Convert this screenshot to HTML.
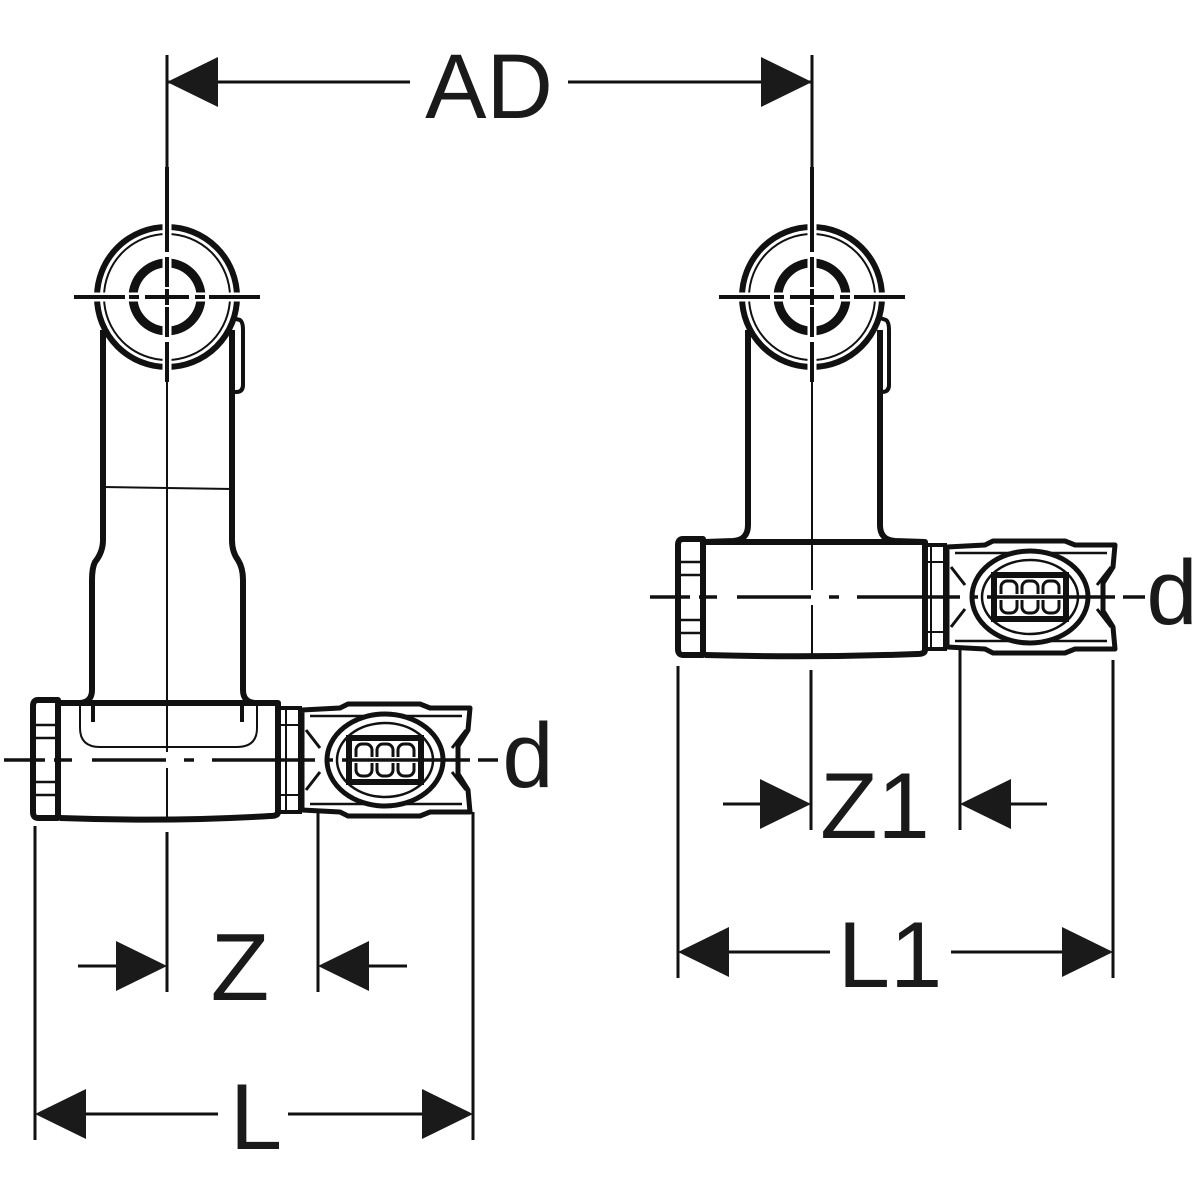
<!DOCTYPE html>
<html><head><meta charset="utf-8"><style>
html,body{margin:0;padding:0;background:#fff;}
svg{display:block;}
text{font-family:"Liberation Sans",Arial,sans-serif;fill:#1a1a1a;}
</style></head><body>
<svg width="1200" height="1200" viewBox="0 0 1200 1200" xmlns="http://www.w3.org/2000/svg">
<defs>
<g id="press">
  <!-- local: x=0 at body right edge, y=0 at centerline -->
  <path d="M0,-52 L20,-52 L20,52 L0,52" fill="none" stroke="#111" stroke-width="4"/>
  <line x1="6" y1="-52" x2="6" y2="52" stroke="#111" stroke-width="2"/>
  <line x1="0" y1="-35" x2="20" y2="-35" stroke="#111" stroke-width="2"/>
  <line x1="0" y1="35" x2="20" y2="35" stroke="#111" stroke-width="2"/>
  <path d="M22,-50 L60,-52 L68,-56 L140,-56 L150,-52 L190,-52 L188,-30 L178,-14 L178,14 L188,30 L190,52 L150,52 L140,56 L68,56 L60,52 L22,50 Z" fill="none" stroke="#111" stroke-width="5" stroke-linejoin="round"/>
  <path d="M30,-44 L182,-44 M30,44 L182,44" stroke="#111" stroke-width="2.5"/>
  <path d="M26,-30 L40,-12 M26,30 L40,12 M186,-30 L172,-12 M186,30 L172,12" stroke="#111" stroke-width="3"/>
  <ellipse cx="105" cy="0" rx="58" ry="46" fill="#fff" stroke="#111" stroke-width="5"/>
  <ellipse cx="105" cy="0" rx="48" ry="37" fill="none" stroke="#111" stroke-width="2.5"/>
  <rect x="69" y="-22" width="72" height="44" fill="none" stroke="#111" stroke-width="6"/>
  <rect x="76" y="-16" width="16" height="32" rx="6" fill="none" stroke="#111" stroke-width="3"/>
  <rect x="97" y="-16" width="16" height="32" rx="6" fill="none" stroke="#111" stroke-width="3"/>
  <rect x="118" y="-16" width="16" height="32" rx="6" fill="none" stroke="#111" stroke-width="3"/>
  <line x1="72" y1="0" x2="138" y2="0" stroke="#fff" stroke-width="6"/>
</g>
<g id="head">
  <!-- local: center 0,0 -->
  <circle cx="0" cy="0" r="70" fill="none" stroke="#111" stroke-width="6"/>
  <circle cx="0" cy="0" r="63" fill="none" stroke="#111" stroke-width="2"/>
  <circle cx="0" cy="0" r="34" fill="none" stroke="#111" stroke-width="9"/>
  <circle cx="0" cy="0" r="27" fill="none" stroke="#fff" stroke-width="1.5"/>
  <line x1="0" y1="-80" x2="0" y2="80" stroke="#fff" stroke-width="9"/>
  <line x1="-80" y1="0" x2="80" y2="0" stroke="#fff" stroke-width="9"/>
  <path d="M0,-130 L0,-45 M0,-40 L0,-10 M0,10 L0,40 M0,45 L0,85" stroke="#111" stroke-width="4"/>
  <path d="M-93,0 L-42,0 M-38,0 L-28,0 M-22,0 L22,0 M28,0 L38,0 M42,0 L93,0" stroke="#111" stroke-width="4"/>
  <line x1="0" y1="-8" x2="0" y2="8" stroke="#111" stroke-width="4"/>
</g>
</defs>

<!-- LEFT FITTING -->
<g stroke="#111" fill="none" stroke-linejoin="round">
  <!-- pipe -->
  <path d="M103,330 L103,540 Q103,552 95,562 Q92,568 92,580 L92,690 Q92,702 80,703 L60,703" stroke-width="6"/>
  <path d="M232,330 L232,540 Q232,552 238,560 Q243,568 243,580 L243,690 Q243,702 255,703 L278,703" stroke-width="6"/>
  <path d="M232,318 L240,320 Q243,322 243,330 L243,385 Q243,392 236,392 L232,392" stroke-width="4"/>
  <line x1="103" y1="487" x2="232" y2="489" stroke-width="2"/>
  <!-- base -->
  <path d="M60,703 L278,703 L278,812 Q278,816 270,816 Q170,822 60,818" stroke-width="6"/>
  <path d="M38,700 L58,700 L58,818 L38,818 Q33,818 33,812 L33,706 Q33,700 38,700 Z" stroke-width="6"/>
  <path d="M36,725 L58,725 M36,738 L58,738 M36,782 L58,782 M36,795 L58,795" stroke-width="2.5"/>
  <path d="M80,705 L80,728 Q80,747 100,747 L237,747 Q257,747 257,728 L257,705" stroke-width="2"/>
  <line x1="93" y1="705" x2="93" y2="722" stroke-width="4"/>
  <line x1="242" y1="705" x2="242" y2="722" stroke-width="4"/>
</g>
<use href="#press" x="280" y="760"/>
<use href="#head" x="167" y="297"/>
<line x1="167" y1="380" x2="167" y2="752" stroke="#111" stroke-width="2"/>
<line x1="167" y1="768" x2="167" y2="818" stroke="#111" stroke-width="2"/>
<!-- left horizontal centerline -->
<path d="M4,760 L45,760 M54,760 L72,760 M92,760 L166,760 M184,760 L194,760 M212,760 L315,760 M325,760 L333,760 M342,760 L470,760 M478,760 L498,760" stroke="#111" stroke-width="3.5"/>

<!-- RIGHT FITTING -->
<g stroke="#111" fill="none" stroke-linejoin="round">
  <path d="M748,330 L748,525 Q748,540 733,541 L705,542" stroke-width="6"/>
  <path d="M880,330 L880,525 Q880,540 895,541 L925,542" stroke-width="6"/>
  <path d="M880,318 L886,320 Q889,322 889,330 L889,385 Q889,392 882,392 L880,392" stroke-width="4"/>
  <line x1="748" y1="543" x2="880" y2="543" stroke-width="2"/>
  <path d="M705,542 L925,542 L925,650 Q925,654 917,654 Q812,658 705,655" stroke-width="6"/>
  <path d="M683,539 L703,539 L703,655 L683,655 Q678,655 678,649 L678,545 Q678,539 683,539 Z" stroke-width="6"/>
  <path d="M681,562 L703,562 M681,575 L703,575 M681,620 L703,620 M681,633 L703,633" stroke-width="2.5"/>
</g>
<use href="#press" x="925" y="597"/>
<use href="#head" x="812" y="297"/>
<line x1="812" y1="380" x2="812" y2="590" stroke="#111" stroke-width="2"/>
<line x1="812" y1="605" x2="812" y2="655" stroke="#111" stroke-width="2"/>
<path d="M650,597 L690,597 M699,597 L717,597 M737,597 L811,597 M829,597 L839,597 M857,597 L960,597 M970,597 L978,597 M987,597 L1115,597 M1123,597 L1145,597" stroke="#111" stroke-width="3.5"/>

<!-- DIMENSIONS -->
<g stroke="#111" stroke-width="3">
  <line x1="167" y1="55" x2="167" y2="170"/>
  <line x1="812" y1="55" x2="812" y2="170"/>
  <line x1="167" y1="82" x2="410" y2="82"/>
  <line x1="568" y1="82" x2="812" y2="82"/>
  <!-- left ext -->
  <line x1="35" y1="826" x2="35" y2="1140"/>
  <line x1="167" y1="832" x2="167" y2="992"/>
  <line x1="318" y1="812" x2="318" y2="992"/>
  <line x1="473" y1="812" x2="473" y2="1140"/>
  <line x1="78" y1="966" x2="120" y2="966"/>
  <line x1="365" y1="966" x2="407" y2="966"/>
  <line x1="80" y1="1114" x2="218" y2="1114"/>
  <line x1="288" y1="1114" x2="428" y2="1114"/>
  <!-- right ext -->
  <line x1="678" y1="666" x2="678" y2="978"/>
  <line x1="811" y1="670" x2="811" y2="830"/>
  <line x1="960" y1="650" x2="960" y2="830"/>
  <line x1="1113" y1="660" x2="1113" y2="978"/>
  <line x1="723" y1="804" x2="765" y2="804"/>
  <line x1="1005" y1="804" x2="1047" y2="804"/>
  <line x1="724" y1="952" x2="830" y2="952"/>
  <line x1="951" y1="952" x2="1068" y2="952"/>
</g>
<g fill="#1a1a1a">
  <polygon points="167,82 218,57 218,107"/>
  <polygon points="812,82 761,57 761,107"/>
  <polygon points="167,966 116,941 116,991"/>
  <polygon points="318,966 369,941 369,991"/>
  <polygon points="35,1114 86,1089 86,1139"/>
  <polygon points="473,1114 422,1089 422,1139"/>
  <polygon points="811,804 760,779 760,829"/>
  <polygon points="960,804 1011,779 1011,829"/>
  <polygon points="678,952 729,927 729,977"/>
  <polygon points="1113,952 1062,927 1062,977"/>
</g>
<text x="489" y="118" font-size="92" text-anchor="middle">AD</text>
<text x="240" y="1000" font-size="96" text-anchor="middle">Z</text>
<text x="256" y="1149" font-size="94" text-anchor="middle">L</text>
<text x="875" y="838" font-size="94" text-anchor="middle">Z1</text>
<text x="890" y="987" font-size="94" text-anchor="middle">L1</text>
<text x="528" y="787" font-size="92" text-anchor="middle">d</text>
<text x="1172" y="624" font-size="92" text-anchor="middle">d</text>
</svg>
</body></html>
